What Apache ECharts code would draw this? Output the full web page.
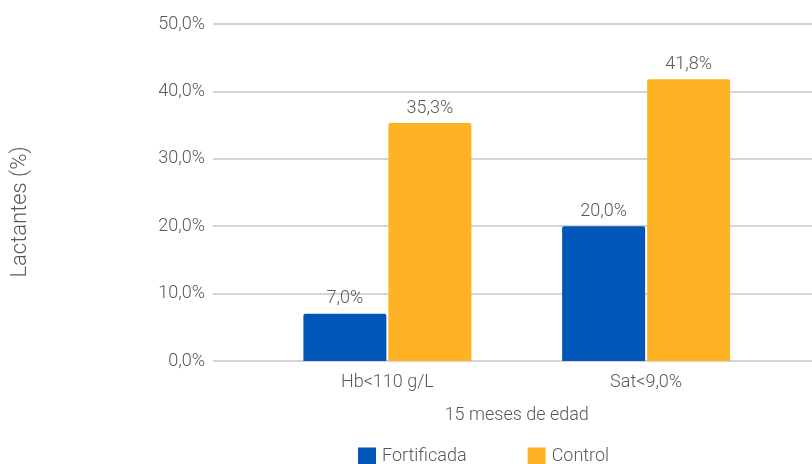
<!DOCTYPE html>
<html>
<head>
<meta charset="utf-8">
<script src="https://cdn.jsdelivr.net/npm/echarts@6/dist/echarts.min.js"></script>
<style>
  html, body { margin: 0; padding: 0; background: #fff; }
  #chart { width: 812px; height: 464px; }
</style>
</head>
<body>
<div id="chart"></div>
<script>
// Anemia / iron deficiency at 15 months of age, by group
const categories = ['Hb<110 g/L', 'Sat<9,0%'];
const fortificada = [7.0, 20.0];
const control = [35.3, 41.8];
const seriesNames = ['Fortificada', 'Control'];
const yTicks = [0, 10, 20, 30, 40, 50];

const FONT = 'Roboto, "Noto Sans", sans-serif';
const TEXT = '#595959';
const fmt = v => v.toFixed(1).replace('.', ',') + '%';

const chart = echarts.init(document.getElementById('chart'), null, { renderer: 'canvas' });

chart.setOption({
  animation: false,
  textStyle: { fontFamily: FONT },
  grid: [
    // bar area
    { left: 258, right: 36.5, top: 24, bottom: 103 },
    // full-width area carrying the value axis and gridlines
    { left: 213, right: 0, top: 24, bottom: 103 }
  ],
  graphic: [
    {
      type: 'text',
      x: 20, y: 212,
      rotation: Math.PI / 2,
      style: {
        text: 'Lactantes (%)',
        fontFamily: FONT, fontSize: 22, fontWeight: 300,
        fill: TEXT, align: 'center', verticalAlign: 'middle'
      }
    }
  ],
  legend: {
    data: seriesNames,
    left: 353,
    top: 442.5,
    itemWidth: 18,
    itemHeight: 18,
    itemGap: 61,
    icon: 'rect',
    textStyle: { fontFamily: FONT, fontSize: 18, color: TEXT, fontWeight: 300, padding: [7, 0, 0, 1] }
  },
  xAxis: [
    {
      type: 'category',
      gridIndex: 0,
      data: categories,
      axisLine: { show: false },
      axisTick: { show: false },
      axisLabel: { fontFamily: FONT, fontSize: 18, color: TEXT, fontWeight: 300, margin: 12 },
      name: '15 meses de edad',
      nameLocation: 'middle',
      nameGap: 45,
      nameTextStyle: { fontFamily: FONT, fontSize: 18, color: TEXT, fontWeight: 300 }
    },
    {
      type: 'category',
      gridIndex: 1,
      data: categories,
      show: false
    }
  ],
  yAxis: [
    {
      type: 'value',
      gridIndex: 0,
      min: 0, max: 50, interval: 10,
      show: false
    },
    {
      type: 'value',
      gridIndex: 1,
      min: yTicks[0], max: yTicks[yTicks.length - 1], interval: 10,
      axisLine: { show: false },
      axisTick: { show: false },
      axisLabel: { fontFamily: FONT, fontSize: 18, color: TEXT, fontWeight: 300, margin: 8, formatter: fmt },
      splitLine: { lineStyle: { color: '#d4d4d4', width: 2 } }
    }
  ],
  series: [
    {
      name: seriesNames[0],
      type: 'bar',
      xAxisIndex: 0, yAxisIndex: 0,
      data: fortificada,
      barWidth: 83,
      barGap: '2.4%',
      itemStyle: { color: '#0057B7', borderRadius: [2, 2, 0, 0] },
      label: {
        show: true, position: 'top', distance: 6,
        fontFamily: FONT, fontSize: 18, color: TEXT, fontWeight: 300,
        formatter: p => fmt(p.value)
      },
      z: 3
    },
    {
      name: seriesNames[1],
      type: 'bar',
      xAxisIndex: 0, yAxisIndex: 0,
      data: control,
      barWidth: 83,
      barGap: '2.4%',
      itemStyle: { color: '#FDB324', borderRadius: [2, 2, 0, 0] },
      label: {
        show: true, position: 'top', distance: 6,
        fontFamily: FONT, fontSize: 18, color: TEXT, fontWeight: 300,
        formatter: p => fmt(p.value)
      },
      z: 3
    }
  ]
});
</script>
</body>
</html>
